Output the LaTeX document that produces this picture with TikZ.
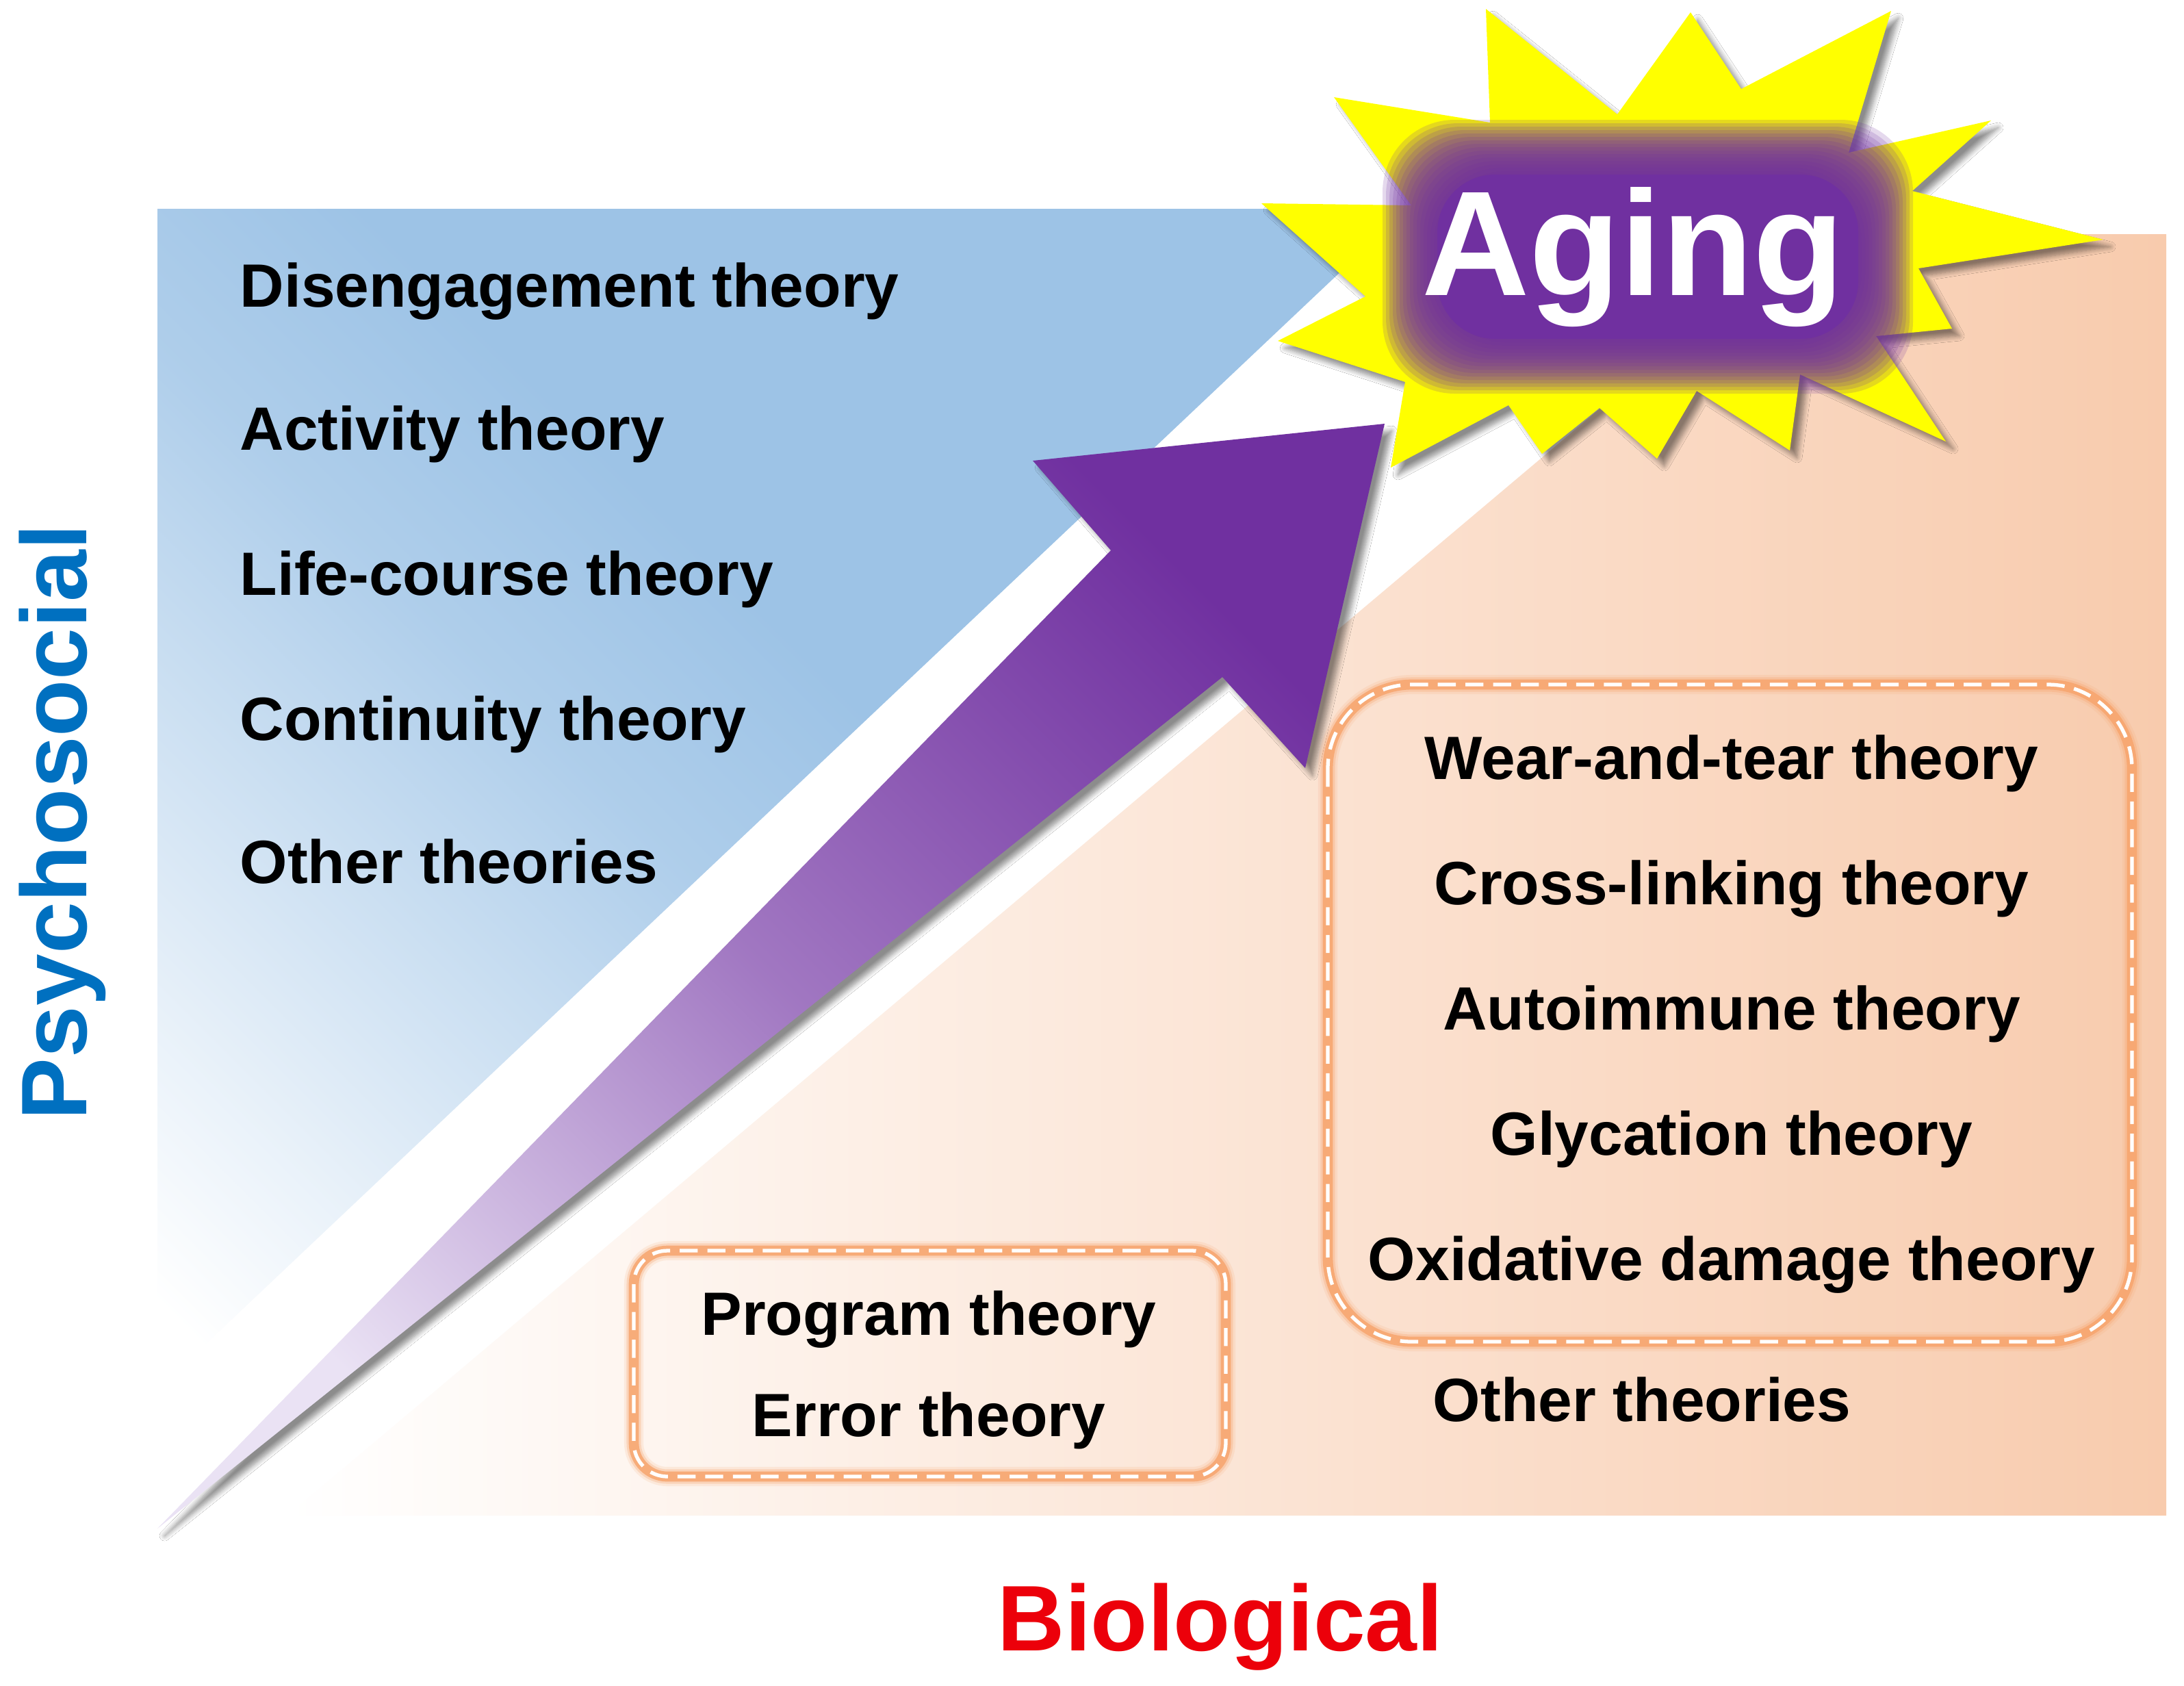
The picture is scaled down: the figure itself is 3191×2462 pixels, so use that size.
\documentclass[tikz,border=0pt]{standalone}
\usepackage{fontspec}
\setmainfont{Liberation Sans}
\usetikzlibrary{shadows.blur}
\definecolor{bluebg}{RGB}{157,195,230}
\definecolor{orangebg}{RGB}{248,203,173}
\definecolor{agepurple}{RGB}{112,48,160}
\definecolor{lavender}{RGB}{234,226,244}
\definecolor{glowc}{RGB}{247,165,110}
\definecolor{psyblue}{RGB}{0,112,192}
\definecolor{bioredc}{RGB}{236,0,10}
\definecolor{staryellow}{RGB}{255,255,0}
\pgfdeclareverticalshading{bluefade}{100bp}{color(0bp)=(white); color(17bp)=(white); color(25bp)=(bluebg!22); color(35bp)=(bluebg!52); color(45bp)=(bluebg!82); color(55bp)=(bluebg); color(100bp)=(bluebg)}
\pgfdeclarehorizontalshading{orangefade}{100bp}{color(0bp)=(white); color(25bp)=(white); color(40bp)=(orangebg!30); color(55bp)=(orangebg!60); color(75bp)=(orangebg); color(100bp)=(orangebg)}
\begin{document}
\begin{tikzpicture}[x=0.01cm,y=-0.01cm,
  theory/.style={font=\fontsize{25.4}{30}\selectfont\bfseries, inner sep=0pt},
  axislabel/.style={font=\fontsize{38.7}{40}\selectfont\bfseries, inner sep=0pt, anchor=base},
  glowline/.style={draw=glowc, line width=#1},
  dashline/.style={draw=white, line width=1.5pt, dash pattern=on 7.5pt off 4pt}]
\useasboundingbox (0,0) rectangle (3191,2462);
\fill[white] (0,0) rectangle (3191,2462);

% psychosocial (blue) region
\shade[shading=bluefade, shading angle=-45]
  (230,305) -- (2056,305) -- (230,2030) -- cycle;

% biological (orange) region
\shade[shading=orangefade]
  (420,2214) -- (3165,2214) -- (3165,342) -- (2640,342) -- cycle;

% big arrow
\shade[blur shadow={shadow xshift=3pt, shadow yshift=-3pt, shadow blur steps=8, shadow opacity=45},
  bottom color=lavender, top color=agepurple, middle color=agepurple!60!lavender, shading angle=-45]
  (230,2233) -- (1623,804) -- (1509,673) -- (2023,619) -- (1907,1122) -- (1786,989) -- cycle;

% star
\fill[staryellow, blur shadow={shadow xshift=3pt, shadow yshift=-3pt, shadow blur steps=8, shadow opacity=45}]
  (2171,13) -- (2363,167) -- (2470,18) -- (2544,130) -- (2763,16) -- (2701,223) -- (2909,176)
  -- (2794,279) -- (3073,350) -- (2803,392) -- (2852,480) -- (2741,491) -- (2843,645)
  -- (2630,547) -- (2615,658) -- (2479,571) -- (2421,670) -- (2337,596) -- (2253,663)
  -- (2204,592) -- (2032,683) -- (2053,558) -- (1867,498) -- (1995,433) -- (1843,297)
  -- (2062,300) -- (1949,142) -- (2177,179) -- cycle;

% purple glow behind Aging
\foreach \d in {60,55,...,-15}
  \fill[agepurple, opacity=0.18, rounded corners=30pt] (2080-\d,235-\d) rectangle (2735+\d,515+\d);
\fill[agepurple, rounded corners=24pt] (2100,255) rectangle (2715,495);
\node[font=\fontsize{62}{62}\selectfont\bfseries, text=white, inner sep=0pt, anchor=base] (aging) at (2386,431) {Aging};

% left theories
\node[theory, anchor=base west] (disengage) at (350,448) {Disengagement theory};
\node[theory, anchor=base west] (activity) at (350,657) {Activity theory};
\node[theory, anchor=base west] (lifecourse) at (350,869) {Life-course theory};
\node[theory, anchor=base west] (continuity) at (350,1081) {Continuity theory};
\node[theory, anchor=base west] (otherpsy) at (350,1290) {Other theories};

% right dashed box
\coordinate (rbA) at (1940,1000);
\coordinate (rbB) at (3115,1960);
\draw[glowline=8pt, opacity=0.15, rounded corners=35pt] (rbA) rectangle (rbB);
\draw[glowline=6pt, opacity=0.3, rounded corners=35pt] (rbA) rectangle (rbB);
\draw[glowline=4.2pt, opacity=0.85, rounded corners=35pt] (rbA) rectangle (rbB);
\draw[dashline, rounded corners=35pt] (rbA) rectangle (rbB);

\node[theory, anchor=base] (wear) at (2530,1138) {Wear-and-tear theory};
\node[theory, anchor=base] (cross) at (2530,1321) {Cross-linking theory};
\node[theory, anchor=base] (auto) at (2530,1504) {Autoimmune theory};
\node[theory, anchor=base] (glyc) at (2530,1687) {Glycation theory};
\node[theory, anchor=base] (oxid) at (2530,1870) {Oxidative damage theory};
\node[theory, anchor=base] (otherbio) at (2399,2076) {Other theories};

% program box
\coordinate (pbA) at (926,1827);
\coordinate (pbB) at (1791,2157);
\draw[glowline=8pt, opacity=0.15, rounded corners=14pt] (pbA) rectangle (pbB);
\draw[glowline=6pt, opacity=0.3, rounded corners=14pt] (pbA) rectangle (pbB);
\draw[glowline=4.2pt, opacity=0.85, rounded corners=14pt] (pbA) rectangle (pbB);
\draw[dashline, rounded corners=14pt] (pbA) rectangle (pbB);
\node[theory, anchor=base] (program) at (1357,1950) {Program theory};
\node[theory, anchor=base] (error) at (1357,2098) {Error theory};

% axis labels
\node[axislabel, text=psyblue, rotate=90] (psy) at (126,1201) {Psychosocial};
\node[axislabel, text=bioredc] (bio) at (1783,2411) {Biological};
\end{tikzpicture}
\end{document}
